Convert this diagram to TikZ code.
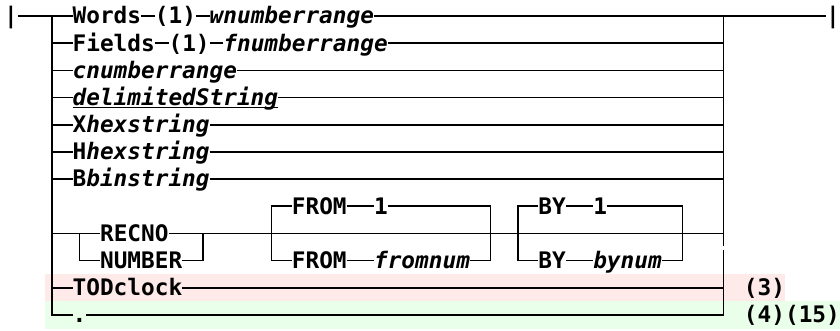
\documentclass[tikz,border=0pt]{standalone}
\usepackage{fontspec}
\newfontfamily\dvm[BoldFont={DejaVu Sans Mono Bold},ItalicFont={DejaVu Sans Mono Oblique},BoldItalicFont={DejaVu Sans Mono Bold Oblique}]{DejaVu Sans Mono}
\definecolor{pinkbg}{RGB}{255,234,234}
\definecolor{greenbg}{RGB}{234,255,234}
\newcommand\colL[1]{(4.15+13.7*(#1))}
\newcommand\colC[1]{(10.999+13.7*(#1))}
\newcommand\rowY[1]{(16+27.18*(#1))}
\begin{document}
\begin{tikzpicture}[x=1pt,y=-1pt,
  txt/.style={font=\dvm\fontsize{22.756}{27}\selectfont\bfseries, inner sep=0pt, outer sep=0pt, anchor=west, text height=20.8pt, text depth=5pt},
  itx/.style={txt, font=\dvm\fontsize{22.756}{27}\selectfont\bfseries\itshape},
  rr/.style={draw=black, line width=1.6pt, line join=miter}]
\useasboundingbox (0,0) rectangle (840,331);
% highlight bands
\fill[pinkbg] ({\colL{3}},{\rowY{10}-13.59}) rectangle ({\colL{57}},{\rowY{10}+13.59});
\fill[greenbg] ({\colL{3}},{\rowY{11}-13.59}) rectangle ({\colL{61}},{\rowY{11}+13.59});
% texts
\node[txt] (bL) at ({\colL{0}},{\rowY{0}}) {|};
\node[txt] (bR) at ({\colL{60}},{\rowY{0}}) {|};
\node[txt] (words) at ({\colL{5}},{\rowY{0}}) {Words};
\node[txt] (w1) at ({\colL{11}},{\rowY{0}}) {(1)};
\node[itx] (wnr) at ({\colL{15}},{\rowY{0}}) {wnumberrange};
\node[txt] (fields) at ({\colL{5}},{\rowY{1}}) {Fields};
\node[txt] (f1) at ({\colL{12}},{\rowY{1}}) {(1)};
\node[itx] (fnr) at ({\colL{16}},{\rowY{1}}) {fnumberrange};
\node[itx] (cnr) at ({\colL{5}},{\rowY{2}}) {cnumberrange};
\node[itx] (dls) at ({\colL{5}},{\rowY{3}}) {\rlap{\rule[-2.6pt]{205.5pt}{1.4pt}}delimitedString};
\node[txt] (xhex) at ({\colL{5}},{\rowY{4}}) {X\itshape hexstring};
\node[txt] (hhex) at ({\colL{5}},{\rowY{5}}) {H\itshape hexstring};
\node[txt] (bbin) at ({\colL{5}},{\rowY{6}}) {B\itshape binstring};
\node[txt] (fromA) at ({\colL{21}},{\rowY{7}}) {FROM};
\node[txt] (oneA) at ({\colL{27}},{\rowY{7}}) {1};
\node[txt] (byA) at ({\colL{39}},{\rowY{7}}) {BY};
\node[txt] (oneB) at ({\colL{43}},{\rowY{7}}) {1};
\node[txt] (recno) at ({\colL{7}},{\rowY{8}}) {RECNO};
\node[txt] (number) at ({\colL{7}},{\rowY{9}}) {NUMBER};
\node[txt] (fromB) at ({\colL{21}},{\rowY{9}}) {FROM};
\node[itx] (fromnum) at ({\colL{27}},{\rowY{9}}) {fromnum};
\node[txt] (byB) at ({\colL{39}},{\rowY{9}}) {BY};
\node[itx] (bynum) at ({\colL{43}},{\rowY{9}}) {bynum};
\node[txt] (tod) at ({\colL{5}},{\rowY{10}}) {TODclock};
\node[txt] (n3) at ({\colL{54}},{\rowY{10}}) {(3)};
\node[txt] (dot) at ({\colL{5}},{\rowY{11}}) {.};
\node[txt] (n415) at ({\colL{54}},{\rowY{11}}) {(4)(15)};
% junction coordinates
\coordinate (lt) at ({\colC{3}},{\rowY{0}});
\coordinate (lb) at ({\colC{3}},{\rowY{11}});
\coordinate (rt) at ({\colC{52}},{\rowY{0}});
\coordinate (rb) at ({\colC{52}},{\rowY{11}});
\coordinate (rgapA) at ({\colC{52}},246);
\coordinate (rgapB) at ({\colC{52}},250);
\coordinate (ka) at ({\colC{5}},{\rowY{8}});
\coordinate (kb) at ({\colC{14}},{\rowY{8}});
\coordinate (fa) at ({\colC{19}},{\rowY{8}});
\coordinate (fb) at ({\colC{35}},{\rowY{8}});
\coordinate (ya) at ({\colC{37}},{\rowY{8}});
\coordinate (yb) at ({\colC{49}},{\rowY{8}});
% main rails
\draw[rr] (bL.east) -- (words.west);
\draw[rr] (words.east) -- (w1.west);
\draw[rr] (w1.east) -- (wnr.west);
\draw[rr] (wnr.east) -- (bR.west);
\draw[rr] (lt) -- (lb) -- (dot.west);
\draw[rr] (dot.east) -- (rb) -- (rgapB);
\draw[rr] (rgapA) -- (rt);
% row 1
\draw[rr] (lt |- fields.west) -- (fields.west);
\draw[rr] (fields.east) -- (f1.west);
\draw[rr] (f1.east) -- (fnr.west);
\draw[rr] (fnr.east) -- (rt |- fnr.east);
% rows 2-6
\draw[rr] (lt |- cnr.west) -- (cnr.west);
\draw[rr] (cnr.east) -- (rt |- cnr.east);
\draw[rr] (lt |- dls.west) -- (dls.west);
\draw[rr] (dls.east) -- (rt |- dls.east);
\draw[rr] (lt |- xhex.west) -- (xhex.west);
\draw[rr] (xhex.east) -- (rt |- xhex.east);
\draw[rr] (lt |- hhex.west) -- (hhex.west);
\draw[rr] (hhex.east) -- (rt |- hhex.east);
\draw[rr] (lt |- bbin.west) -- (bbin.west);
\draw[rr] (bbin.east) -- (rt |- bbin.east);
% rows 7-9
\draw[rr] (lt |- recno.west) -- (recno.west);
\draw[rr] (recno.east) -- (rt |- recno.east);
\draw[rr] (ka) -- (ka |- number.west) -- (number.west);
\draw[rr] (number.east) -- (kb |- number.east) -- (kb);
\draw[rr] (fromA.west) -- (fa |- fromA.west) -- (fa |- fromB.west) -- (fromB.west);
\draw[rr] (oneA.east) -- (fb |- oneA.east) -- (fb |- fromnum.east) -- (fromnum.east);
\draw[rr] (fromA.east) -- (oneA.west);
\draw[rr] (fromB.east) -- (fromnum.west);
\draw[rr] (byA.west) -- (ya |- byA.west) -- (ya |- byB.west) -- (byB.west);
\draw[rr] (oneB.east) -- (yb |- oneB.east) -- (yb |- bynum.east) -- (bynum.east);
\draw[rr] (byA.east) -- (oneB.west);
\draw[rr] (byB.east) -- (bynum.west);
% row 10
\draw[rr] (lt |- tod.west) -- (tod.west);
\draw[rr] (tod.east) -- (rt |- tod.east);
\end{tikzpicture}
\end{document}
